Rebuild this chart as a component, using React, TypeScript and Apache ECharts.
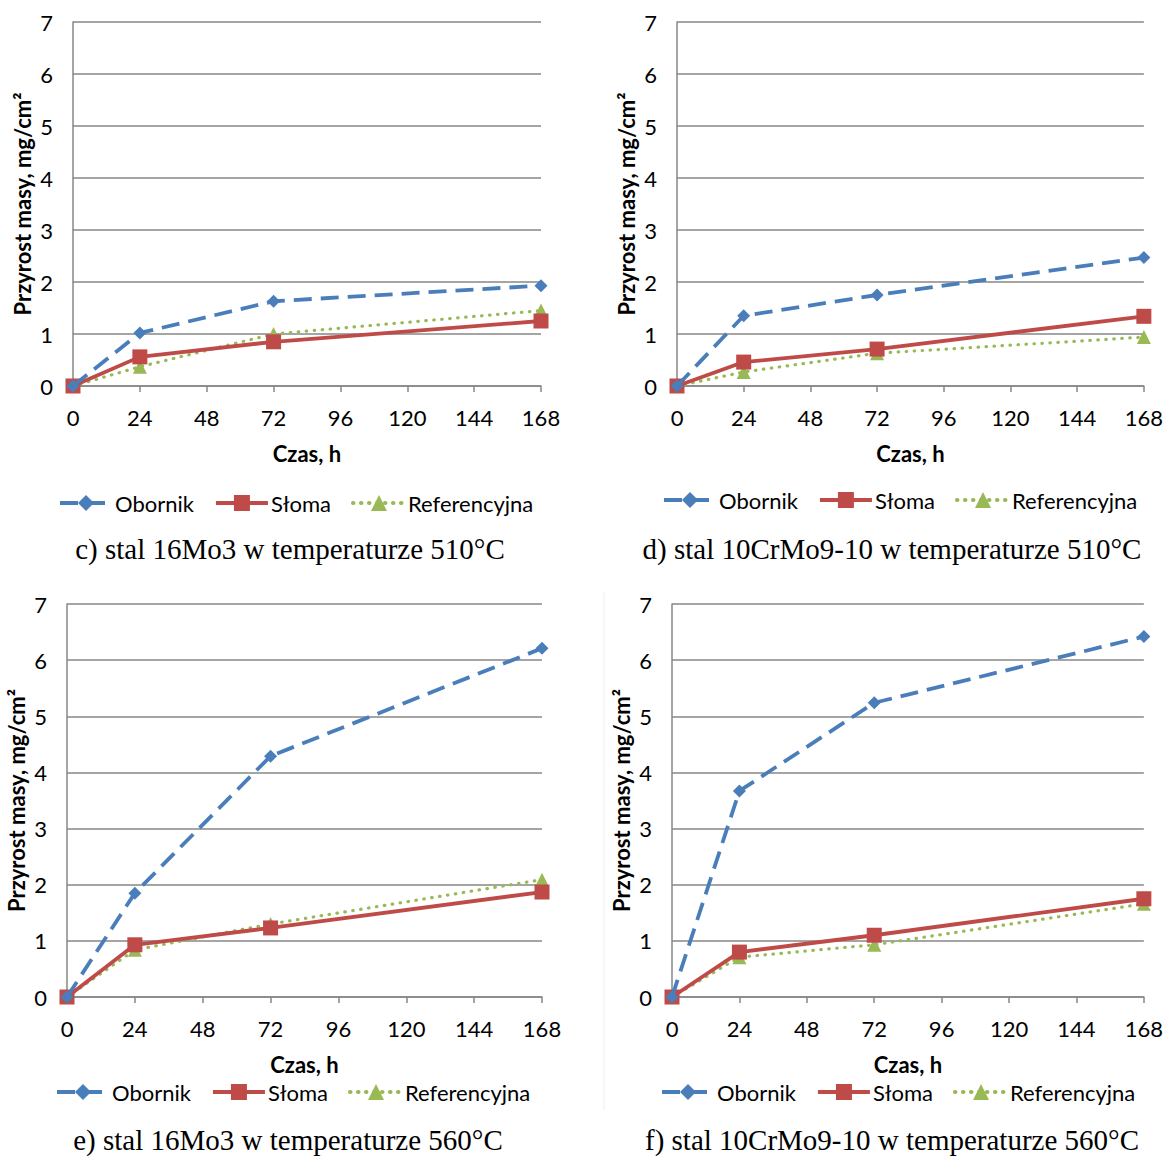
import React, { useEffect, useRef } from "react";
import * as echarts from "echarts";

const hours = [0, 24, 72, 168];
const xTicks = [0, 24, 48, 72, 96, 120, 144, 168];
const seriesNames = ["Obornik", "Słoma", "Referencyjna"];

// panel c) 16Mo3 510°C
const cObornik = [0, 1.02, 1.63, 1.93];
const cSloma = [0, 0.56, 0.85, 1.25];
const cRef = [0, 0.37, 1.0, 1.45];
// panel d) 10CrMo9-10 510°C
const dObornik = [0, 1.35, 1.75, 2.47];
const dSloma = [0, 0.46, 0.71, 1.34];
const dRef = [0, 0.27, 0.63, 0.94];
// panel e) 16Mo3 560°C
const eObornik = [0, 1.85, 4.29, 6.21];
const eSloma = [0, 0.93, 1.23, 1.87];
const eRef = [0, 0.84, 1.3, 2.09];
// panel f) 10CrMo9-10 560°C
const fObornik = [0, 3.67, 5.24, 6.42];
const fSloma = [0, 0.8, 1.1, 1.75];
const fRef = [0, 0.71, 0.93, 1.66];

const captions = [
  "c) stal 16Mo3 w temperaturze 510°C",
  "d) stal 10CrMo9-10 w temperaturze 510°C",
  "e) stal 16Mo3 w temperaturze 560°C",
  "f) stal 10CrMo9-10 w temperaturze 560°C",
];

const FONT = "Lato, 'Open Sans', sans-serif";
const SERIF = "'Liberation Serif', 'DejaVu Serif', serif";
const GRIDC = "#878787";
const FS = 22;

const panels = [
  { data: [cObornik, cSloma, cRef], grid: { left: 73, right: 541, top: 22, bottom: 386 }, legend: { left: 53, top: 487 }, caption: { x: 290, y: 549 } },
  { data: [dObornik, dSloma, dRef], grid: { left: 677, right: 1145, top: 22, bottom: 386 }, legend: { left: 657, top: 484 }, caption: { x: 892, y: 549 } },
  { data: [eObornik, eSloma, eRef], grid: { left: 67, right: 542, top: 604, bottom: 997 }, legend: { left: 50, top: 1076 }, caption: { x: 288, y: 1140 } },
  { data: [fObornik, fSloma, fRef], grid: { left: 672, right: 1146, top: 604, bottom: 997 }, legend: { left: 655, top: 1076 }, caption: { x: 892, y: 1140 } },
];

const styles = [
  { color: "#4A7EBB", symbol: "diamond", symbolSize: 13, lineStyle: { width: 3.8, type: [18, 9] as any } },
  { color: "#BE4B48", symbol: "rect", symbolSize: 15, lineStyle: { width: 3.8, type: "solid" as any } },
  { color: "#98B954", symbol: "triangle", symbolSize: 14, lineStyle: { width: 3.2, type: [0.5, 7.5] as any, cap: "round" as any } },
];

export default function App() {
  const ref = useRef<HTMLDivElement>(null);
  useEffect(() => {
    const chart = echarts.init(ref.current!, null, { renderer: "svg" });
    const grids: any[] = [];
    const xAxes: any[] = [];
    const yAxes: any[] = [];
    const series: any[] = [];
    const legends: any[] = [];
    const graphics: any[] = [];
    panels.forEach((p, i) => {
      const g = p.grid;
      grids.push({ left: g.left, top: g.top, width: g.right - g.left, height: g.bottom - g.top, containLabel: false });
      xAxes.push({
        type: "value", gridIndex: i, min: 0, max: 168, interval: 24,
        name: "Czas, h", nameLocation: "middle", nameGap: 56,
        nameTextStyle: { fontFamily: FONT, fontWeight: "bold", fontSize: FS, color: "#000" },
        axisLine: { show: true, lineStyle: { color: GRIDC, width: 1.5 } },
        axisTick: { show: true, length: 6, inside: false, lineStyle: { color: GRIDC, width: 1.5 } },
        axisLabel: { fontFamily: FONT, fontSize: FS, color: "#000", margin: 20, formatter: (v: number) => (xTicks.includes(v) ? String(v) : "") },
        splitLine: { show: false },
      });
      yAxes.push({
        type: "value", gridIndex: i, min: 0, max: 7, interval: 1,
        name: "Przyrost masy, mg/cm²", nameLocation: "middle", nameGap: 40,
        nameTextStyle: { fontFamily: FONT, fontWeight: "bold", fontSize: FS, color: "#000" },
        axisLine: { show: true, lineStyle: { color: GRIDC, width: 1.5 } },
        axisTick: { show: false },
        axisLabel: { fontFamily: FONT, fontSize: FS, color: "#000", margin: 20 },
        splitLine: { show: true, lineStyle: { color: GRIDC, width: 1.5 } },
      });
      p.data.forEach((vals, k) => {
        const s = styles[k];
        series.push({
          type: "line", name: seriesNames[k], xAxisIndex: i, yAxisIndex: i,
          data: hours.map((h, j) => [h, vals[j]]),
          symbol: s.symbol, symbolSize: s.symbolSize, showSymbol: true,
          itemStyle: { color: s.color },
          lineStyle: { color: s.color, ...s.lineStyle },
          z: 5 - k,
        });
      });
      legends.push({
        left: p.legend.left, top: p.legend.top, orient: "horizontal",
        itemWidth: 52, itemHeight: 20, itemGap: 20,
        lineStyle: { width: 4 },
        textStyle: { fontFamily: FONT, fontSize: FS, color: "#000", padding: [0, 0, 0, -2] },
        data: seriesNames,
        selectedMode: false,
      });
      graphics.push({
        type: "text", x: p.caption.x, y: p.caption.y,
        style: { text: captions[i], font: `29px ${SERIF}`, fill: "#000", textAlign: "center", textVerticalAlign: "middle" },
      });
    });
    graphics.push({ type: "line", shape: { x1: 604, y1: 592, x2: 604, y2: 1110 }, style: { stroke: "#efefef", lineWidth: 1 } });
    chart.setOption({
      animation: false,
      backgroundColor: "#fff",
      grid: grids,
      xAxis: xAxes,
      yAxis: yAxes,
      series,
      legend: legends,
      graphic: graphics,
    });
    return () => chart.dispose();
  }, []);
  return <div ref={ref} style={{ position: "absolute", left: 0, top: 0, width: 1166, height: 1156 }} />;
}
